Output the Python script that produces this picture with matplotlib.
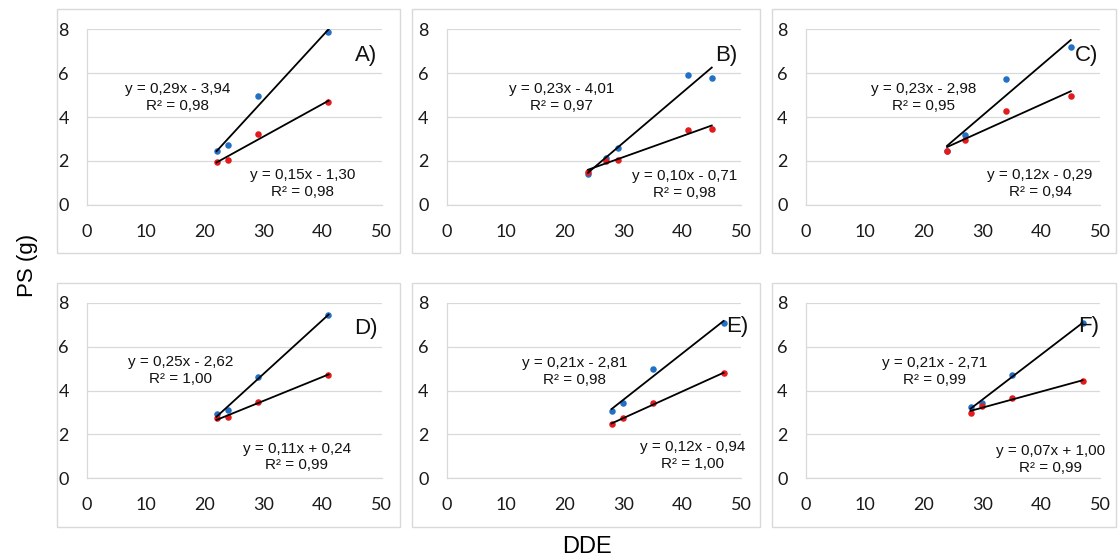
import numpy as np
import matplotlib
from matplotlib import pyplot as plt
from matplotlib.patches import Rectangle

matplotlib.use('Agg')

# data: DDE (x) and PS (g) for two series per panel
panel_names = ["A)", "B)", "C)", "D)", "E)", "F)"]
x_a = [22, 24, 29, 41]
blue_a = [2.44, 2.71, 4.95, 7.86]
red_a = [1.93, 2.05, 3.22, 4.67]
x_b = [24, 27, 29, 41, 45]
blue_b = [1.40, 2.12, 2.58, 5.92, 5.80]
red_b = [1.49, 2.00, 2.05, 3.41, 3.46]
x_c = [24, 27, 34, 45]
blue_c = [2.45, 3.20, 5.73, 7.18]
red_c = [2.45, 2.95, 4.27, 4.98]
x_d = [22, 24, 29, 41]
blue_d = [2.91, 3.11, 4.63, 7.44]
red_d = [2.73, 2.78, 3.46, 4.73]
x_e = [28, 30, 35, 47]
blue_e = [3.07, 3.44, 4.98, 7.06]
red_e = [2.46, 2.73, 3.44, 4.78]
x_f = [28, 30, 35, 47]
blue_f = [3.26, 3.41, 4.73, 7.06]
red_f = [2.96, 3.29, 3.67, 4.43]

blue_eq = ["y = 0,29x - 3,94\nR² = 0,98", "y = 0,23x - 4,01\nR² = 0,97", "y = 0,23x - 2,98\nR² = 0,95",
           "y = 0,25x - 2,62\nR² = 1,00", "y = 0,21x - 2,81\nR² = 0,98", "y = 0,21x - 2,71\nR² = 0,99"]
red_eq = ["y = 0,15x - 1,30\nR² = 0,98", "y = 0,10x - 0,71\nR² = 0,98", "y = 0,12x - 0,29\nR² = 0,94",
          "y = 0,11x + 0,24\nR² = 0,99", "y = 0,12x - 0,94\nR² = 1,00", "y = 0,07x + 1,00\nR² = 0,99"]

xs = [x_a, x_b, x_c, x_d, x_e, x_f]
blues = [blue_a, blue_b, blue_c, blue_d, blue_e, blue_f]
reds = [red_a, red_b, red_c, red_d, red_e, red_f]

# label positions (data coords)
blue_eq_pos = [(15.4, 4.9), (19.5, 4.9), (20.0, 4.9), (15.9, 4.9), (21.7, 4.87), (21.9, 4.87)]
red_eq_pos = [(36.6, 0.96), (40.4, 0.92), (39.8, 0.98), (35.6, 0.97), (41.7, 1.05), (41.5, 0.87)]
name_pos = [(47.4, 6.8), (47.5, 6.8), (47.7, 6.8), (47.4, 6.83), (49.4, 6.9), (48.0, 6.9)]

W, H = 1118, 559
BLUE = "#2271c6"
RED = "#e41a1c"
GRID = "#d9d9d9"

fig = plt.figure(figsize=(W / 100, H / 100), dpi=100)

box_lefts = [57, 412, 772]
box_rights = [400, 760, 1116]
box_tops = [9, 283]
box_bottoms = [253, 527]
ax_lefts = [87, 446.7, 805.7]
ax_tops = [29.3, 302.8]
ax_w, ax_h = 294.5, 175.5

for i in range(6):
    row, col = divmod(i, 3)
    # outer chart-area frame
    fig.patches.append(Rectangle((box_lefts[col] / W, 1 - box_bottoms[row] / H),
                                 (box_rights[col] - box_lefts[col]) / W,
                                 (box_bottoms[row] - box_tops[row]) / H,
                                 transform=fig.transFigure, fill=False,
                                 edgecolor=GRID, linewidth=1.0, zorder=0))
    ax = fig.add_axes([ax_lefts[col] / W, 1 - (ax_tops[row] + ax_h) / H, ax_w / W, ax_h / H])
    ax.set_xlim(0, 50)
    ax.set_ylim(0, 8)
    ax.set_xticks(np.arange(0, 51, 10))
    ax.set_yticks(np.arange(0, 9, 2))
    ax.grid(True, axis="y", color=GRID, linewidth=0.9)
    ax.set_axisbelow(True)
    for side in ["top", "right"]:
        ax.spines[side].set_visible(False)
    for side in ["left", "bottom"]:
        ax.spines[side].set_color(GRID)
        ax.spines[side].set_linewidth(0.9)
    ax.tick_params(axis="x", length=0, pad=13.5, labelsize=13)
    ax.tick_params(axis="y", length=0, pad=13, labelsize=13)
    for lbl in ax.get_xticklabels() + ax.get_yticklabels():
        lbl.set_fontfamily("Lato")
        lbl.set_color("#1a1a1a")

    x = np.array(xs[i], dtype=float)
    ax.scatter(x, blues[i], s=22, color=BLUE, zorder=3, linewidths=0)
    ax.scatter(x, reds[i], s=22, color=RED, zorder=3, linewidths=0)
    for ys in (blues[i], reds[i]):
        k, b = np.polyfit(x, ys, 1)
        xx = np.array([x.min(), x.max()])
        ax.plot(xx, k * xx + b, color="black", linewidth=1.3, zorder=4)

    ax.text(*blue_eq_pos[i], blue_eq[i], ha="center", va="center", fontsize=11,
            family="Liberation Sans", linespacing=1.25, color="#111111")
    ax.text(*red_eq_pos[i], red_eq[i], ha="center", va="center", fontsize=11,
            family="Liberation Sans", linespacing=1.25, color="#111111")
    ax.text(*name_pos[i], panel_names[i], ha="center", va="center", fontsize=16,
            family="Liberation Sans", color="#111111", zorder=5)

fig.text(27 / W, 1 - 265 / H, "PS (g)", rotation=90, ha="center", va="center",
         fontsize=16, family="Liberation Sans")
fig.text(587 / W, 1 - 547 / H, "DDE", ha="center", va="center",
         fontsize=17, family="Liberation Sans")

fig.savefig("out.png", dpi=100)
